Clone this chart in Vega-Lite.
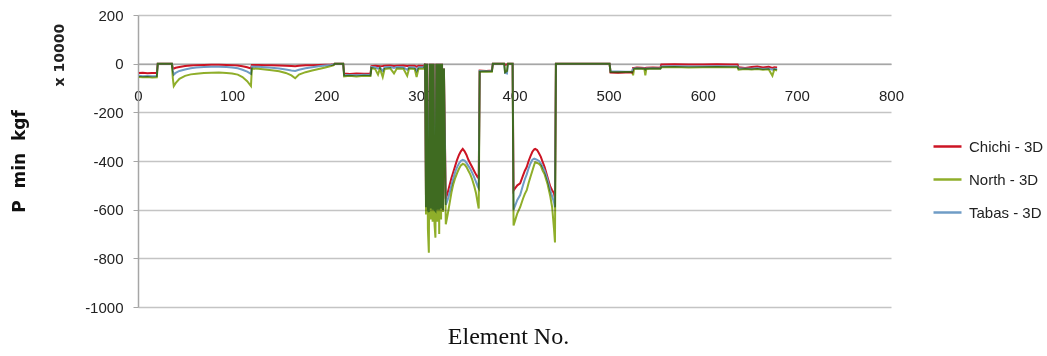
{
  "$schema": "https://vega.github.io/schema/vega-lite/v6.json",
  "width": 753,
  "height": 292,
  "autosize": {"type": "none"},
  "padding": {"left": 138, "top": 15, "right": 156, "bottom": 49},
  "background": "white",
  "config": {"view": {"stroke": null}},
  "datasets": {
    "d": [
      {"e":1,"Chichi - 3D":-38,"North - 3D":-55,"Tabas - 3D":-50},
      {"e":5,"Chichi - 3D":-37,"North - 3D":-56,"Tabas - 3D":-52},
      {"e":10,"Chichi - 3D":-39,"North - 3D":-55,"Tabas - 3D":-51},
      {"e":15,"Chichi - 3D":-38,"North - 3D":-57,"Tabas - 3D":-52},
      {"e":20,"Chichi - 3D":-38,"North - 3D":-56,"Tabas - 3D":-51},
      {"e":21,"Chichi - 3D":0,"North - 3D":0,"Tabas - 3D":0},
      {"e":36,"Chichi - 3D":0,"North - 3D":0,"Tabas - 3D":0},
      {"e":37,"Chichi - 3D":-18,"North - 3D":-60,"Tabas - 3D":-30},
      {"e":38,"Chichi - 3D":-20,"North - 3D":-92,"Tabas - 3D":-45},
      {"e":40,"Chichi - 3D":-17,"North - 3D":-80,"Tabas - 3D":-38},
      {"e":44,"Chichi - 3D":-14,"North - 3D":-62,"Tabas - 3D":-30},
      {"e":50,"Chichi - 3D":-10,"North - 3D":-50,"Tabas - 3D":-24},
      {"e":56,"Chichi - 3D":-8,"North - 3D":-44,"Tabas - 3D":-19},
      {"e":62,"Chichi - 3D":-6,"North - 3D":-41,"Tabas - 3D":-16},
      {"e":70,"Chichi - 3D":-5,"North - 3D":-38,"Tabas - 3D":-14},
      {"e":78,"Chichi - 3D":-4,"North - 3D":-37,"Tabas - 3D":-13},
      {"e":86,"Chichi - 3D":-4,"North - 3D":-36,"Tabas - 3D":-13},
      {"e":94,"Chichi - 3D":-5,"North - 3D":-38,"Tabas - 3D":-14},
      {"e":100,"Chichi - 3D":-6,"North - 3D":-40,"Tabas - 3D":-16},
      {"e":106,"Chichi - 3D":-8,"North - 3D":-45,"Tabas - 3D":-19},
      {"e":111,"Chichi - 3D":-11,"North - 3D":-55,"Tabas - 3D":-25},
      {"e":116,"Chichi - 3D":-15,"North - 3D":-72,"Tabas - 3D":-33},
      {"e":120,"Chichi - 3D":-20,"North - 3D":-92,"Tabas - 3D":-42},
      {"e":121,"Chichi - 3D":-5,"North - 3D":-20,"Tabas - 3D":-12},
      {"e":128,"Chichi - 3D":-5,"North - 3D":-21,"Tabas - 3D":-13},
      {"e":135,"Chichi - 3D":-6,"North - 3D":-24,"Tabas - 3D":-15},
      {"e":142,"Chichi - 3D":-7,"North - 3D":-27,"Tabas - 3D":-17},
      {"e":150,"Chichi - 3D":-8,"North - 3D":-31,"Tabas - 3D":-20},
      {"e":157,"Chichi - 3D":-9,"North - 3D":-38,"Tabas - 3D":-24},
      {"e":163,"Chichi - 3D":-10,"North - 3D":-48,"Tabas - 3D":-28},
      {"e":167,"Chichi - 3D":-11,"North - 3D":-60,"Tabas - 3D":-30},
      {"e":171,"Chichi - 3D":-9,"North - 3D":-45,"Tabas - 3D":-25},
      {"e":178,"Chichi - 3D":-7,"North - 3D":-35,"Tabas - 3D":-19},
      {"e":185,"Chichi - 3D":-6,"North - 3D":-28,"Tabas - 3D":-15},
      {"e":192,"Chichi - 3D":-5,"North - 3D":-22,"Tabas - 3D":-11},
      {"e":199,"Chichi - 3D":-4,"North - 3D":-16,"Tabas - 3D":-8},
      {"e":205,"Chichi - 3D":-3,"North - 3D":-10,"Tabas - 3D":-5},
      {"e":208,"Chichi - 3D":-2,"North - 3D":-6,"Tabas - 3D":-3},
      {"e":209,"Chichi - 3D":0,"North - 3D":0,"Tabas - 3D":0},
      {"e":218,"Chichi - 3D":0,"North - 3D":0,"Tabas - 3D":0},
      {"e":219,"Chichi - 3D":-40,"North - 3D":-52,"Tabas - 3D":-48},
      {"e":225,"Chichi - 3D":-42,"North - 3D":-50,"Tabas - 3D":-47},
      {"e":232,"Chichi - 3D":-40,"North - 3D":-53,"Tabas - 3D":-48},
      {"e":240,"Chichi - 3D":-41,"North - 3D":-50,"Tabas - 3D":-46},
      {"e":247,"Chichi - 3D":-40,"North - 3D":-51,"Tabas - 3D":-47},
      {"e":248,"Chichi - 3D":-10,"North - 3D":-18,"Tabas - 3D":-14},
      {"e":252,"Chichi - 3D":-9,"North - 3D":-22,"Tabas - 3D":-15},
      {"e":255,"Chichi - 3D":-10,"North - 3D":-45,"Tabas - 3D":-20},
      {"e":257,"Chichi - 3D":-11,"North - 3D":-20,"Tabas - 3D":-16},
      {"e":260,"Chichi - 3D":-10,"North - 3D":-55,"Tabas - 3D":-30},
      {"e":262,"Chichi - 3D":-9,"North - 3D":-22,"Tabas - 3D":-15},
      {"e":268,"Chichi - 3D":-8,"North - 3D":-19,"Tabas - 3D":-14},
      {"e":272,"Chichi - 3D":-10,"North - 3D":-40,"Tabas - 3D":-18},
      {"e":275,"Chichi - 3D":-9,"North - 3D":-20,"Tabas - 3D":-14},
      {"e":282,"Chichi - 3D":-8,"North - 3D":-21,"Tabas - 3D":-15},
      {"e":286,"Chichi - 3D":-10,"North - 3D":-50,"Tabas - 3D":-25},
      {"e":288,"Chichi - 3D":-9,"North - 3D":-20,"Tabas - 3D":-15},
      {"e":294,"Chichi - 3D":-9,"North - 3D":-22,"Tabas - 3D":-16},
      {"e":296,"Chichi - 3D":-12,"North - 3D":-55,"Tabas - 3D":-30},
      {"e":298,"Chichi - 3D":-9,"North - 3D":-21,"Tabas - 3D":-15},
      {"e":304,"Chichi - 3D":-10,"North - 3D":-20,"Tabas - 3D":-15},
      {"e":305,"Chichi - 3D":0,"North - 3D":0,"Tabas - 3D":0},
      {"e":306,"Chichi - 3D":-570,"North - 3D":-620,"Tabas - 3D":-590},
      {"e":307,"Chichi - 3D":0,"North - 3D":0,"Tabas - 3D":0},
      {"e":308,"Chichi - 3D":-580,"North - 3D":-680,"Tabas - 3D":-600},
      {"e":309,"Chichi - 3D":-590,"North - 3D":-777,"Tabas - 3D":-610},
      {"e":310,"Chichi - 3D":0,"North - 3D":0,"Tabas - 3D":0},
      {"e":311,"Chichi - 3D":-575,"North - 3D":-640,"Tabas - 3D":-595},
      {"e":312,"Chichi - 3D":0,"North - 3D":0,"Tabas - 3D":0},
      {"e":313,"Chichi - 3D":-580,"North - 3D":-650,"Tabas - 3D":-600},
      {"e":314,"Chichi - 3D":0,"North - 3D":0,"Tabas - 3D":0},
      {"e":315,"Chichi - 3D":-585,"North - 3D":-660,"Tabas - 3D":-600},
      {"e":316,"Chichi - 3D":-590,"North - 3D":-715,"Tabas - 3D":-605},
      {"e":317,"Chichi - 3D":0,"North - 3D":0,"Tabas - 3D":0},
      {"e":318,"Chichi - 3D":-580,"North - 3D":-650,"Tabas - 3D":-600},
      {"e":319,"Chichi - 3D":0,"North - 3D":0,"Tabas - 3D":0},
      {"e":320,"Chichi - 3D":-585,"North - 3D":-700,"Tabas - 3D":-600},
      {"e":321,"Chichi - 3D":0,"North - 3D":0,"Tabas - 3D":0},
      {"e":322,"Chichi - 3D":-580,"North - 3D":-640,"Tabas - 3D":-595},
      {"e":323,"Chichi - 3D":0,"North - 3D":0,"Tabas - 3D":0},
      {"e":324,"Chichi - 3D":-600,"North - 3D":-610,"Tabas - 3D":-600},
      {"e":325,"Chichi - 3D":-20,"North - 3D":-20,"Tabas - 3D":-20},
      {"e":327,"Chichi - 3D":-555,"North - 3D":-660,"Tabas - 3D":-580},
      {"e":329,"Chichi - 3D":-530,"North - 3D":-620,"Tabas - 3D":-560},
      {"e":331,"Chichi - 3D":-500,"North - 3D":-575,"Tabas - 3D":-530},
      {"e":333,"Chichi - 3D":-470,"North - 3D":-530,"Tabas - 3D":-500},
      {"e":335,"Chichi - 3D":-445,"North - 3D":-495,"Tabas - 3D":-470},
      {"e":337,"Chichi - 3D":-420,"North - 3D":-470,"Tabas - 3D":-445},
      {"e":339,"Chichi - 3D":-395,"North - 3D":-450,"Tabas - 3D":-425},
      {"e":341,"Chichi - 3D":-375,"North - 3D":-432,"Tabas - 3D":-410},
      {"e":343,"Chichi - 3D":-360,"North - 3D":-418,"Tabas - 3D":-400},
      {"e":345,"Chichi - 3D":-350,"North - 3D":-412,"Tabas - 3D":-395},
      {"e":347,"Chichi - 3D":-360,"North - 3D":-415,"Tabas - 3D":-398},
      {"e":349,"Chichi - 3D":-375,"North - 3D":-425,"Tabas - 3D":-408},
      {"e":351,"Chichi - 3D":-395,"North - 3D":-440,"Tabas - 3D":-420},
      {"e":353,"Chichi - 3D":-410,"North - 3D":-455,"Tabas - 3D":-432},
      {"e":355,"Chichi - 3D":-425,"North - 3D":-475,"Tabas - 3D":-448},
      {"e":357,"Chichi - 3D":-440,"North - 3D":-500,"Tabas - 3D":-465},
      {"e":359,"Chichi - 3D":-455,"North - 3D":-530,"Tabas - 3D":-485},
      {"e":361,"Chichi - 3D":-468,"North - 3D":-575,"Tabas - 3D":-505},
      {"e":362,"Chichi - 3D":-470,"North - 3D":-595,"Tabas - 3D":-512},
      {"e":363,"Chichi - 3D":-28,"North - 3D":-33,"Tabas - 3D":-30},
      {"e":370,"Chichi - 3D":-30,"North - 3D":-32,"Tabas - 3D":-31},
      {"e":376,"Chichi - 3D":-28,"North - 3D":-33,"Tabas - 3D":-30},
      {"e":377,"Chichi - 3D":0,"North - 3D":0,"Tabas - 3D":0},
      {"e":389,"Chichi - 3D":0,"North - 3D":0,"Tabas - 3D":0},
      {"e":390,"Chichi - 3D":-5,"North - 3D":-35,"Tabas - 3D":-38},
      {"e":392,"Chichi - 3D":-3,"North - 3D":-30,"Tabas - 3D":-40},
      {"e":393,"Chichi - 3D":0,"North - 3D":0,"Tabas - 3D":0},
      {"e":398,"Chichi - 3D":0,"North - 3D":0,"Tabas - 3D":0},
      {"e":399,"Chichi - 3D":-522,"North - 3D":-665,"Tabas - 3D":-600},
      {"e":401,"Chichi - 3D":-510,"North - 3D":-640,"Tabas - 3D":-580},
      {"e":403,"Chichi - 3D":-500,"North - 3D":-615,"Tabas - 3D":-560},
      {"e":406,"Chichi - 3D":-492,"North - 3D":-590,"Tabas - 3D":-540},
      {"e":409,"Chichi - 3D":-460,"North - 3D":-555,"Tabas - 3D":-500},
      {"e":411,"Chichi - 3D":-440,"North - 3D":-535,"Tabas - 3D":-475},
      {"e":413,"Chichi - 3D":-425,"North - 3D":-520,"Tabas - 3D":-455},
      {"e":415,"Chichi - 3D":-400,"North - 3D":-490,"Tabas - 3D":-430},
      {"e":417,"Chichi - 3D":-380,"North - 3D":-465,"Tabas - 3D":-410},
      {"e":419,"Chichi - 3D":-362,"North - 3D":-440,"Tabas - 3D":-395},
      {"e":421,"Chichi - 3D":-352,"North - 3D":-415,"Tabas - 3D":-390},
      {"e":422,"Chichi - 3D":-350,"North - 3D":-405,"Tabas - 3D":-392},
      {"e":424,"Chichi - 3D":-355,"North - 3D":-408,"Tabas - 3D":-395},
      {"e":426,"Chichi - 3D":-368,"North - 3D":-412,"Tabas - 3D":-400},
      {"e":428,"Chichi - 3D":-383,"North - 3D":-420,"Tabas - 3D":-410},
      {"e":430,"Chichi - 3D":-405,"North - 3D":-440,"Tabas - 3D":-425},
      {"e":432,"Chichi - 3D":-425,"North - 3D":-455,"Tabas - 3D":-440},
      {"e":435,"Chichi - 3D":-466,"North - 3D":-493,"Tabas - 3D":-475},
      {"e":438,"Chichi - 3D":-505,"North - 3D":-545,"Tabas - 3D":-520},
      {"e":440,"Chichi - 3D":-520,"North - 3D":-590,"Tabas - 3D":-545},
      {"e":442,"Chichi - 3D":-533,"North - 3D":-680,"Tabas - 3D":-570},
      {"e":443,"Chichi - 3D":-555,"North - 3D":-735,"Tabas - 3D":-590},
      {"e":444,"Chichi - 3D":0,"North - 3D":0,"Tabas - 3D":0},
      {"e":501,"Chichi - 3D":0,"North - 3D":0,"Tabas - 3D":0},
      {"e":502,"Chichi - 3D":-36,"North - 3D":-34,"Tabas - 3D":-32},
      {"e":510,"Chichi - 3D":-37,"North - 3D":-35,"Tabas - 3D":-32},
      {"e":518,"Chichi - 3D":-36,"North - 3D":-34,"Tabas - 3D":-33},
      {"e":525,"Chichi - 3D":-36,"North - 3D":-34,"Tabas - 3D":-32},
      {"e":526,"Chichi - 3D":-18,"North - 3D":-48,"Tabas - 3D":-22},
      {"e":527,"Chichi - 3D":-18,"North - 3D":-22,"Tabas - 3D":-20},
      {"e":530,"Chichi - 3D":-16,"North - 3D":-20,"Tabas - 3D":-19},
      {"e":535,"Chichi - 3D":-17,"North - 3D":-21,"Tabas - 3D":-20},
      {"e":538,"Chichi - 3D":-18,"North - 3D":-22,"Tabas - 3D":-20},
      {"e":539,"Chichi - 3D":-18,"North - 3D":-48,"Tabas - 3D":-24},
      {"e":540,"Chichi - 3D":-17,"North - 3D":-22,"Tabas - 3D":-20},
      {"e":547,"Chichi - 3D":-16,"North - 3D":-20,"Tabas - 3D":-19},
      {"e":555,"Chichi - 3D":-17,"North - 3D":-21,"Tabas - 3D":-20},
      {"e":556,"Chichi - 3D":-3,"North - 3D":-15,"Tabas - 3D":-12},
      {"e":570,"Chichi - 3D":-2,"North - 3D":-14,"Tabas - 3D":-11},
      {"e":585,"Chichi - 3D":-3,"North - 3D":-16,"Tabas - 3D":-12},
      {"e":600,"Chichi - 3D":-3,"North - 3D":-15,"Tabas - 3D":-12},
      {"e":615,"Chichi - 3D":-2,"North - 3D":-14,"Tabas - 3D":-11},
      {"e":630,"Chichi - 3D":-3,"North - 3D":-15,"Tabas - 3D":-12},
      {"e":637,"Chichi - 3D":-3,"North - 3D":-15,"Tabas - 3D":-12},
      {"e":638,"Chichi - 3D":-15,"North - 3D":-25,"Tabas - 3D":-20},
      {"e":645,"Chichi - 3D":-18,"North - 3D":-22,"Tabas - 3D":-20},
      {"e":652,"Chichi - 3D":-14,"North - 3D":-24,"Tabas - 3D":-21},
      {"e":658,"Chichi - 3D":-12,"North - 3D":-22,"Tabas - 3D":-19},
      {"e":664,"Chichi - 3D":-16,"North - 3D":-25,"Tabas - 3D":-22},
      {"e":670,"Chichi - 3D":-13,"North - 3D":-23,"Tabas - 3D":-20},
      {"e":674,"Chichi - 3D":-18,"North - 3D":-50,"Tabas - 3D":-25},
      {"e":676,"Chichi - 3D":-15,"North - 3D":-24,"Tabas - 3D":-21},
      {"e":679,"Chichi - 3D":-16,"North - 3D":-28,"Tabas - 3D":-22}
    ],
    "note": [{"label": "x 10000", "e": -83, "p": 35}]
  },
  "encoding": {
    "x": {
      "field": "e",
      "type": "quantitative",
      "scale": {"domain": [0, 800], "nice": false, "zero": false},
      "axis": {
        "values": [0, 100, 200, 300, 400, 500, 600, 700, 800],
        "offset": -243.3,
        "grid": false,
        "ticks": false,
        "labelPadding": 25,
        "labelFont": "Liberation Sans",
        "labelFontSize": 15,
        "labelColor": "#222222",
        "labelFlush": false,
        "domainColor": "#a6a6a6",
        "domainWidth": 1.5,
        "title": "Element No.",
        "titleFont": "Liberation Serif",
        "titleFontSize": 24,
        "titleFontWeight": "normal",
        "titleColor": "#111111",
        "titleX": 370,
        "titleY": 273,
        "titleAlign": "center",
        "titleBaseline": "middle",
        "titleAngle": 0
      }
    },
    "y": {
      "field": "p",
      "type": "quantitative",
      "scale": {"domain": [-1000, 200], "nice": false},
      "axis": {
        "values": [-1000, -800, -600, -400, -200, 0, 200],
        "labelExpr": "datum.value < 0 ? '-' + abs(datum.value) : '' + datum.value",
        "grid": true,
        "gridColor": "#c4c4c4",
        "gridWidth": 1.5,
        "domainColor": "#a6a6a6",
        "domainWidth": 1.5,
        "tickColor": "#a6a6a6",
        "tickSize": 5,
        "labelPadding": 10,
        "labelFont": "Liberation Sans",
        "labelFontSize": 15,
        "labelColor": "#222222",
        "title": "P\u00a0 min\u00a0 kgf",
        "titleFont": "DejaVu Sans",
        "titleFontSize": 17,
        "titleFontWeight": "bold",
        "titleColor": "#111111",
        "titleX": -119,
        "titleY": 146,
        "titleAngle": 270,
        "titleAlign": "center",
        "titleBaseline": "middle"
      }
    },
    "color": {
      "field": "series",
      "type": "nominal",
      "scale": {
        "domain": ["Chichi - 3D", "North - 3D", "Tabas - 3D"],
        "range": ["#cc1424", "#8fae2a", "#6f9cc6"]
      },
      "legend": {
        "title": null,
        "orient": "none",
        "legendX": 794,
        "legendY": 116,
        "symbolType": "stroke",
        "symbolSize": 784,
        "symbolStrokeWidth": 2.5,
        "labelFont": "Liberation Sans",
        "labelFontSize": 15,
        "labelColor": "#222222",
        "labelOffset": 6,
        "rowPadding": 9,
        "padding": 0
      }
    }
  },
  "layer": [
    {
      "data": {"name": "d"},
      "transform": [
        {"fold": ["Chichi - 3D", "North - 3D", "Tabas - 3D"], "as": ["series", "p"]},
        {"filter": "datum.series === 'Chichi - 3D'"}
      ],
      "mark": {"type": "line", "strokeWidth": 2}
    },
    {
      "data": {"name": "d"},
      "transform": [
        {"fold": ["Chichi - 3D", "North - 3D", "Tabas - 3D"], "as": ["series", "p"]},
        {"filter": "datum.series === 'Tabas - 3D'"}
      ],
      "mark": {"type": "line", "strokeWidth": 2}
    },
    {
      "data": {"name": "d"},
      "transform": [
        {"fold": ["Chichi - 3D", "North - 3D", "Tabas - 3D"], "as": ["series", "p"]},
        {"filter": "datum.series === 'North - 3D'"}
      ],
      "mark": {"type": "line", "strokeWidth": 2, "blend": "multiply"}
    },
    {
      "data": {"name": "note"},
      "mark": {"type": "text", "clip": false, "angle": 270, "font": "DejaVu Sans", "fontSize": 14, "fontWeight": "bold", "align": "center", "baseline": "middle"},
      "encoding": {
        "color": {"value": "#222222"},
        "text": {"field": "label", "type": "nominal"}
      }
    }
  ]
}
